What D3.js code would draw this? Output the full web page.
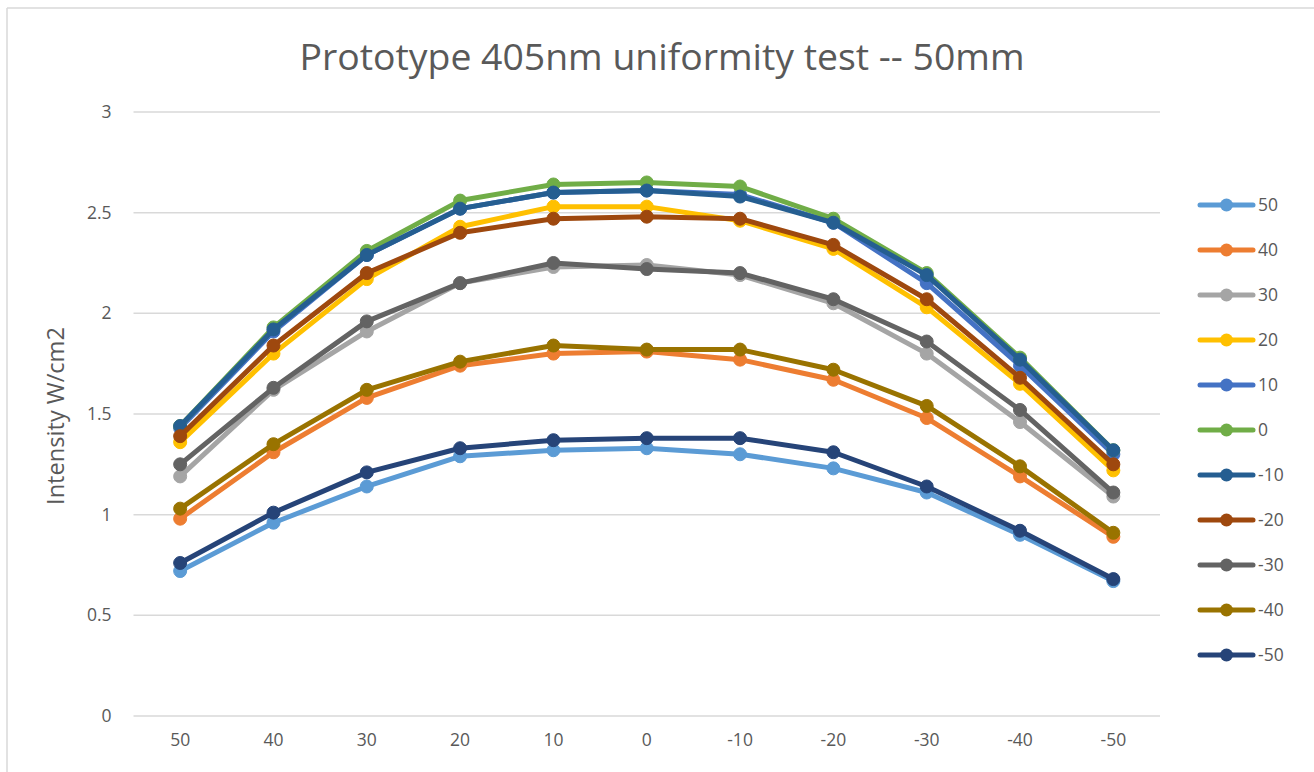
<!DOCTYPE html>
<html>
<head>
<meta charset="utf-8">
<script src="https://cdn.jsdelivr.net/npm/d3@7"></script>
<style>
  html, body { margin: 0; padding: 0; background: #fff; }
  svg { display: block; }
  text { font-family: "Open Sans", "Noto Sans", sans-serif; fill: #595959; }
</style>
</head>
<body>
<svg id="chart" width="1314" height="772"></svg>
<script>
const categories = ["50", "40", "30", "20", "10", "0", "-10", "-20", "-30", "-40", "-50"];
const seriesNames = ["50", "40", "30", "20", "10", "0", "-10", "-20", "-30", "-40", "-50"];
const colors = ["#5B9BD5", "#ED7D31", "#A5A5A5", "#FFC000", "#4472C4", "#70AD47", "#255E91", "#9E480E", "#636363", "#997300", "#264478"];
const s50  = [0.72, 0.96, 1.14, 1.29, 1.32, 1.33, 1.30, 1.23, 1.11, 0.90, 0.67];
const s40  = [0.98, 1.31, 1.58, 1.74, 1.80, 1.81, 1.77, 1.67, 1.48, 1.19, 0.89];
const s30  = [1.19, 1.62, 1.91, 2.15, 2.23, 2.24, 2.19, 2.05, 1.80, 1.46, 1.09];
const s20  = [1.36, 1.80, 2.17, 2.43, 2.53, 2.53, 2.46, 2.32, 2.03, 1.65, 1.22];
const s10  = [1.43, 1.91, 2.29, 2.52, 2.60, 2.61, 2.59, 2.45, 2.15, 1.74, 1.30];
const s0   = [1.44, 1.93, 2.31, 2.56, 2.64, 2.65, 2.63, 2.47, 2.20, 1.78, 1.32];
const sm10 = [1.44, 1.92, 2.29, 2.52, 2.60, 2.61, 2.58, 2.45, 2.19, 1.77, 1.32];
const sm20 = [1.39, 1.84, 2.20, 2.40, 2.47, 2.48, 2.47, 2.34, 2.07, 1.68, 1.25];
const sm30 = [1.25, 1.63, 1.96, 2.15, 2.25, 2.22, 2.20, 2.07, 1.86, 1.52, 1.11];
const sm40 = [1.03, 1.35, 1.62, 1.76, 1.84, 1.82, 1.82, 1.72, 1.54, 1.24, 0.91];
const sm50 = [0.76, 1.01, 1.21, 1.33, 1.37, 1.38, 1.38, 1.31, 1.14, 0.92, 0.68];
const seriesValues = [s50, s40, s30, s20, s10, s0, sm10, sm20, sm30, sm40, sm50];
const yTicks = [0, 0.5, 1, 1.5, 2, 2.5, 3];
const titleText = "Prototype 405nm uniformity test -- 50mm";
const yAxisTitle = "Intensity W/cm2";

const svg = d3.select("#chart");

// outer border (top & left visible)
svg.append("line").attr("x1", 7).attr("x2", 1314).attr("y1", 8).attr("y2", 8)
  .attr("stroke", "#d9d9d9").attr("stroke-width", 1.5);
svg.append("line").attr("x1", 7).attr("x2", 7).attr("y1", 8).attr("y2", 772)
  .attr("stroke", "#d9d9d9").attr("stroke-width", 1.5);

const x = d3.scaleBand().domain(categories).range([133.5, 1160]).padding(0);
const y = d3.scaleLinear().domain([0, 3]).range([716, 112]);

// y axis labels
const yAxis = d3.axisLeft(y).tickValues(yTicks).tickSize(0).tickPadding(22)
  .tickFormat(d => String(d));
const gy = svg.append("g").attr("transform", "translate(133.5,0)").call(yAxis);
gy.select(".domain").remove();
gy.selectAll("text").style("font-size", "17.5px").attr("fill", "#595959")
  .style("font-family", '"Open Sans", sans-serif');

// gridlines
svg.append("g").selectAll("line").data(yTicks).join("line")
  .attr("x1", 133.5).attr("x2", 1160)
  .attr("y1", d => y(d)).attr("y2", d => y(d))
  .attr("stroke", "#d9d9d9").attr("stroke-width", 1.5);

// x axis labels
const xAxis = d3.axisBottom(x).tickSize(0).tickPadding(18);
const gx = svg.append("g").attr("transform", "translate(0,716)").call(xAxis);
gx.select(".domain").remove();
gx.selectAll("text").style("font-size", "17.5px").attr("fill", "#595959")
  .style("font-family", '"Open Sans", sans-serif');

// lines
const line = d3.line().x((d, i) => x(categories[i]) + x.bandwidth() / 2).y(d => y(d));
seriesValues.forEach((vals, si) => {
  const g = svg.append("g");
  g.append("path").datum(vals).attr("d", line)
    .attr("fill", "none").attr("stroke", colors[si]).attr("stroke-width", 5)
    .attr("stroke-linejoin", "round").attr("stroke-linecap", "round");
  g.selectAll("circle").data(vals).join("circle")
    .attr("cx", (d, i) => x(categories[i]) + x.bandwidth() / 2)
    .attr("cy", d => y(d)).attr("r", 6.5)
    .attr("fill", colors[si]).attr("stroke", colors[si]).attr("stroke-width", 1);
});

// title
const title = svg.append("text").attr("x", 662).attr("y", 70).attr("text-anchor", "middle")
  .style("font-size", "34px").text(titleText);
const tw = title.node().getComputedTextLength();
title.style("font-size", (34 * 725 / tw).toFixed(2) + "px");

// y axis title
const yt = svg.append("text").attr("transform", "translate(64,416) rotate(-90)")
  .attr("text-anchor", "middle").style("font-size", "17px").text(yAxisTitle);
const ytw = yt.node().getComputedTextLength();
yt.style("font-size", (17 * 178 / ytw).toFixed(2) + "px");

// legend
const leg = svg.append("g");
seriesNames.forEach((name, i) => {
  const ly = 205 + i * 45;
  leg.append("line").attr("x1", 1200).attr("x2", 1253).attr("y1", ly).attr("y2", ly)
    .attr("stroke", colors[i]).attr("stroke-width", 5).attr("stroke-linecap", "round");
  leg.append("circle").attr("cx", 1226.5).attr("cy", ly).attr("r", 6.5).attr("fill", colors[i]);
  leg.append("text").attr("x", 1258).attr("y", ly).attr("dy", "0.35em")
    .style("font-size", "17.5px").text(name);
});
</script>
</body>
</html>
